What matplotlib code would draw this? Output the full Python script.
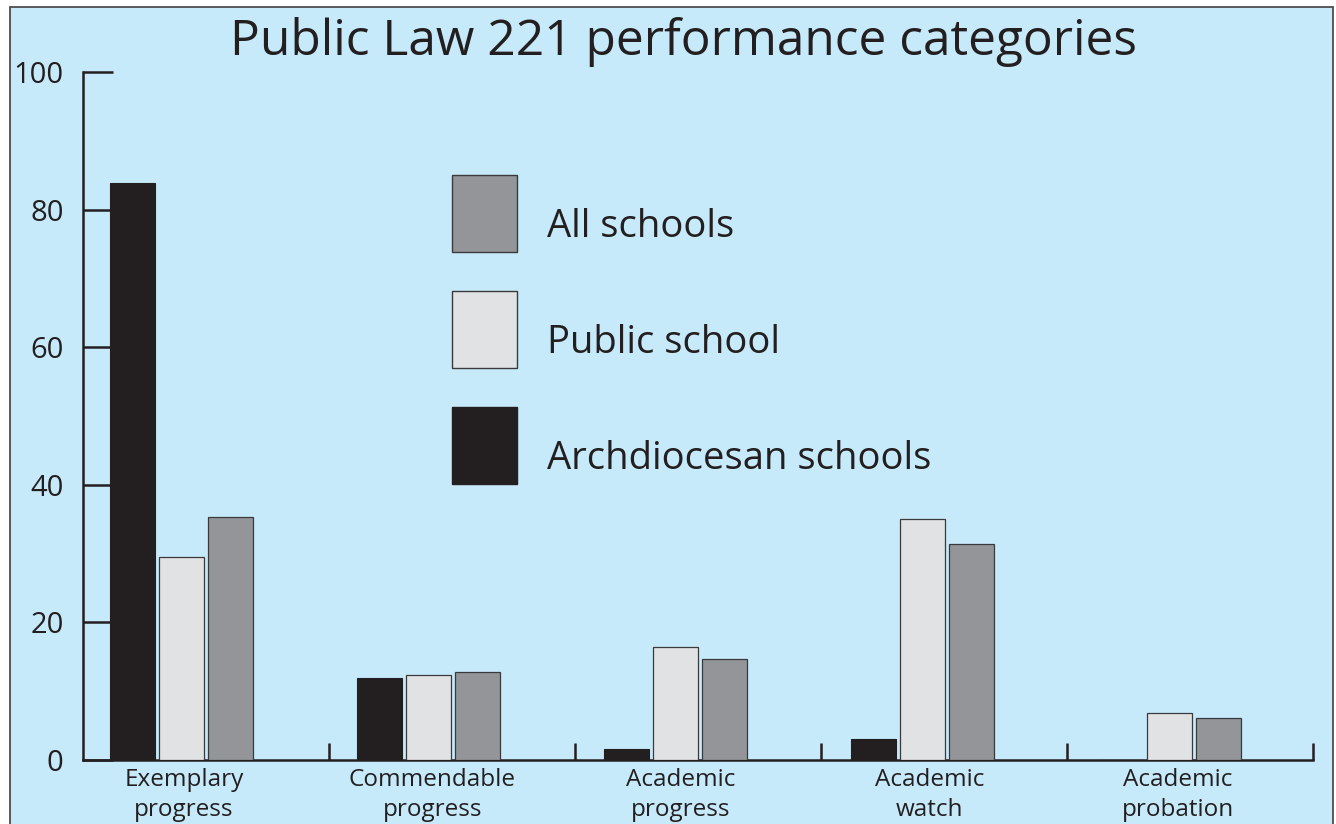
import matplotlib
matplotlib.use("Agg")
import matplotlib.pyplot as plt
from matplotlib.patches import Rectangle
import numpy as np

categories = ["Exemplary\nprogress", "Commendable\nprogress", "Academic\nprogress",
              "Academic\nwatch", "Academic\nprobation"]
archdiocesan = [83.9, 11.9, 1.6, 3.0, 0.0]
public = [29.5, 12.4, 16.4, 35.0, 6.8]
all_schools = [35.3, 12.8, 14.7, 31.4, 6.1]
series_names = ["All schools", "Public school", "Archdiocesan schools"]
yticks = [0, 20, 40, 60, 80, 100]

FONT = ["Open Sans", "DejaVu Sans"]
plt.rcParams['font.family'] = FONT

BG = "#C7EAFA"
C_BLACK = "#231F20"
C_LIGHT = "#E1E2E4"
C_GRAY = "#939598"
TXT = "#231F20"

W, H = 1336, 824
fig = plt.figure(figsize=(W/100, H/100), dpi=100, facecolor="white")

# blue panel with border
fig.patches.append(Rectangle((10/W, -0.02), (1333-10)/W, 1.02 - 7/H,
                             transform=fig.transFigure, facecolor=BG,
                             edgecolor="#4d4d4f", lw=1.3, zorder=-5))

ax = fig.add_axes([83/W, 64/H, (1313-83)/W, 688/H])
ax.set_facecolor("none")
ax.set_zorder(2)

n = len(categories)
x = np.arange(n)
bw = 0.183
step = 0.199
center = x + 0.40 + 0.004 * x
ax.bar(center - step, archdiocesan, bw, color=C_BLACK, edgecolor=C_BLACK, lw=0.8, zorder=3)
ax.bar(center, public, bw, color=C_LIGHT, edgecolor="#3a3a3c", lw=0.9, zorder=3)
ax.bar(center + step, all_schools, bw, color=C_GRAY, edgecolor="#3a3a3c", lw=0.9, zorder=3)

ax.set_xlim(0, n)
ax.set_ylim(0, 100)

for s in ["top", "right"]:
    ax.spines[s].set_visible(False)
for s in ["left", "bottom"]:
    ax.spines[s].set_linewidth(1.8)
    ax.spines[s].set_color(TXT)

ax.set_yticks(yticks)
ax.set_yticklabels([str(v) for v in yticks], fontsize=21, color=TXT)
ax.tick_params(axis="y", direction="in", length=21.5, width=1.8, color=TXT, pad=14)

ax.set_xticks(x + 0.41 + 0.01 * x)
ax.set_xticklabels(categories, fontsize=17.5, color=TXT, linespacing=1.32)
ax.tick_params(axis="x", which="major", length=0, pad=6)
ax.set_xticks(np.arange(1, n + 1), minor=True)
ax.tick_params(axis="x", which="minor", direction="in", length=12, width=1.8, color=TXT)

# title
fig.text(683/W, 1 - 55/H, "Public Law 221 performance categories", fontsize=35.7,
         color=TXT, ha="center", va="baseline")

# legend
leg_colors = [C_GRAY, C_LIGHT, C_BLACK]
leg_edges = ["#3a3a3c", "#3a3a3c", C_BLACK]
tops = [175, 291, 407]
for name, c, e, t in zip(series_names, leg_colors, leg_edges, tops):
    fig.patches.append(Rectangle((452/W, 1 - (t + 77)/H), 65/W, 77/H,
                                 transform=fig.transFigure, facecolor=c,
                                 edgecolor=e, lw=1.0, zorder=5))
    fig.text(547/W, 1 - (t + 62)/H, name, fontsize=27.5, color=TXT,
             ha="left", va="baseline")

fig.savefig("out.png", dpi=100, facecolor="white")
